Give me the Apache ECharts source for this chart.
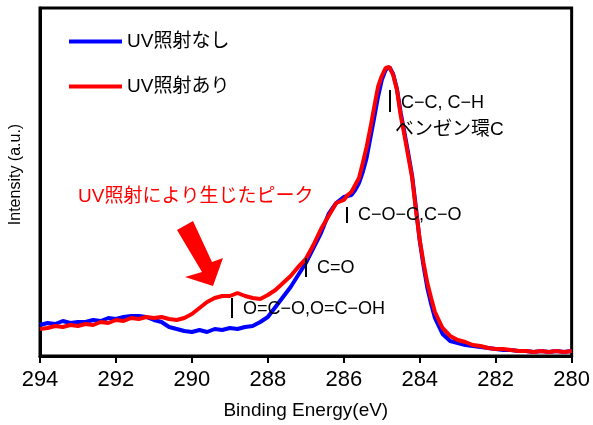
<!DOCTYPE html>
<html>
<head>
<meta charset="utf-8">
<script src="https://cdn.jsdelivr.net/npm/echarts@6/dist/echarts.min.js"></script>
<style>
html,body{margin:0;padding:0;background:#fff;}
#chart{width:593px;height:425px;}
</style>
</head>
<body>
<div id="chart"></div>
<script>
const bindingEnergy = [294.0,293.8,293.6,293.4,293.2,293.0,292.8,292.6,292.4,292.2,292.0,291.8,291.6,291.4,291.2,291.0,290.8,290.6,290.4,290.2,290.0,289.8,289.6,289.4,289.2,289.0,288.8,288.6,288.4,288.2,288.0,287.8,287.6,287.4,287.2,287.0,286.8,286.6,286.4,286.2,286.0,285.9,285.8,285.7,285.6,285.5,285.4,285.3,285.2,285.1,285.0,284.9,284.8,284.7,284.6,284.5,284.4,284.3,284.2,284.1,284.0,283.9,283.8,283.7,283.6,283.4,283.2,283.0,282.8,282.6,282.4,282.2,282.0,281.8,281.6,281.4,281.2,281.0,280.8,280.6,280.4,280.2,280.0];
const intensityNoUV = [31,33,32,35,33,34,34,36,35,38,37,39,40,40,39,36,34,29,27,25,24,26,24,27,26,28,27,29,30,34,39,49,59,69,81,93,108,123,142,153,159,160,161,166,173,184,198,218,238,259,276,286,289,282,267,243,223,202,180,148,115,90,68,52,38,22,15,13,11,10,9,8,7,6,6,5,5,4,5,4,5,4,5];
const intensityUV = [27,28,30,29,31,30,32,31,34,33,36,35,38,37,39,38,39,37,36,38,42,48,54,58,60,60,63,60,58,57,61,66,73,80,89,97,111,127,140,153,156,161,164,171,178,193,209,228,249,269,280,288,289,281,266,240,220,199,178,146,116,93,73,58,44,28,20,16,14,11,10,8,7,7,6,5,5,4,5,4,5,4,5];
const xTicks = {min: 280, max: 294, interval: 2};
const seriesNames = ['UV照射なし', 'UV照射あり'];
const annotations = [
  {text: 'C−C, C−H', x: 401, y: 103, size: 18},
  {text: 'ベンゼン環C', x: 395, y: 130, size: 19},
  {text: 'C−O−C,C−O', x: 358, y: 215, size: 18},
  {text: 'C=O', x: 317, y: 268, size: 18},
  {text: 'O=C−O,O=C−OH', x: 243, y: 309, size: 18}
];
const markerBars = [[390, 90, 112], [347, 207, 223], [306, 258, 277], [232, 298, 318]];
const peakNote = 'UV照射により生じたピーク';

const toPairs = (xs, ys) => xs.map((x, i) => [x, ys[i]]);
const JP = '"Liberation Sans", "Noto Sans CJK JP", sans-serif';

const chart = echarts.init(document.getElementById('chart'), null, {renderer: 'canvas'});

const graphics = [];
markerBars.forEach(b => graphics.push({type: 'line', shape: {x1: b[0], y1: b[1], x2: b[0], y2: b[2]}, style: {stroke: '#000', lineWidth: 2}, z: 10}));
annotations.forEach(a => graphics.push({type: 'text', x: a.x, y: a.y, style: {text: a.text, fill: '#000', font: a.size + 'px ' + JP, verticalAlign: 'middle', align: 'left'}, z: 10}));
graphics.push({type: 'text', x: 78, y: 197, style: {text: peakNote, fill: '#ff0000', font: '19px ' + JP, verticalAlign: 'middle', align: 'left'}, z: 10});
graphics.push({type: 'polygon', shape: {points: [[177, 230], [193, 221], [212, 262], [223, 258], [213, 286], [185, 277], [202, 272]]}, style: {fill: '#ff0000'}, z: 10});

chart.setOption({
  animation: false,
  backgroundColor: '#fff',
  grid: {left: 40, right: 20, top: 8, bottom: 69, show: true, borderColor: '#000', borderWidth: 3, backgroundColor: 'transparent'},
  legend: {
    data: seriesNames,
    orient: 'vertical',
    left: 64, top: 27,
    itemWidth: 53, itemHeight: 4, itemGap: 26,
    icon: 'rect',
    textStyle: {fontSize: 19, color: '#000', fontFamily: JP}
  },
  xAxis: {
    type: 'value', inverse: true,
    min: xTicks.min, max: xTicks.max, interval: xTicks.interval,
    name: 'Binding Energy(eV)', nameLocation: 'middle', nameGap: 45,
    nameTextStyle: {fontSize: 19, color: '#000', fontFamily: JP},
    axisLine: {show: true, lineStyle: {color: '#000', width: 3}},
    axisTick: {show: true, inside: false, length: 7, lineStyle: {color: '#000', width: 2}},
    axisLabel: {fontSize: 22, color: '#000', margin: 13, fontFamily: '"Liberation Sans", sans-serif'},
    splitLine: {show: false}
  },
  yAxis: {
    type: 'value', min: 0, max: 348,
    name: 'Intensity (a.u.)', nameLocation: 'middle', nameGap: 16,
    nameTextStyle: {fontSize: 16, color: '#000', fontFamily: '"Liberation Sans", sans-serif', padding: [0, 0, 0, 15]},
    axisLine: {show: true, lineStyle: {color: '#000', width: 3}},
    axisTick: {show: false}, axisLabel: {show: false}, splitLine: {show: false}
  },
  series: [
    {name: seriesNames[0], type: 'line', data: toPairs(bindingEnergy, intensityNoUV), showSymbol: false, symbol: 'none', lineStyle: {color: '#0000ff', width: 4}, itemStyle: {color: '#0000ff'}, z: 2},
    {name: seriesNames[1], type: 'line', data: toPairs(bindingEnergy, intensityUV), showSymbol: false, symbol: 'none', lineStyle: {color: '#ff0000', width: 4}, itemStyle: {color: '#ff0000'}, z: 3}
  ],
  graphic: graphics
});
</script>
</body>
</html>
